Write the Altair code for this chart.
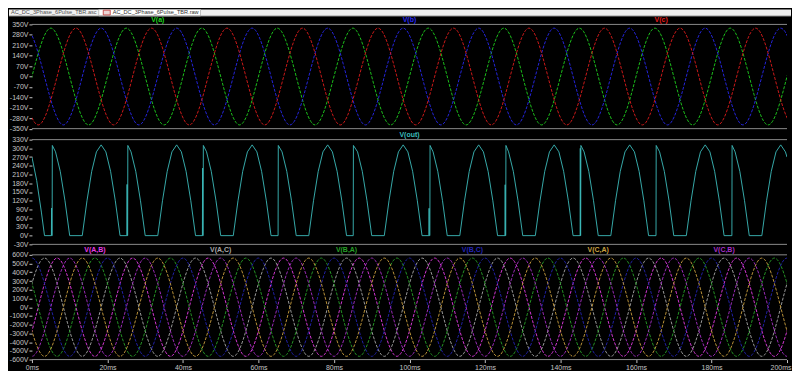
import altair as alt
import pandas as pd

# ---------------------------------------------------------------
# Values (time in ms, voltage in V)
# ---------------------------------------------------------------

# Top pane: phase voltages, given by the times of their successive peaks / troughs
va_t = [-15, -5, 5, 15, 25, 35, 45, 55, 65, 75, 85, 95,
        105, 115, 125, 135, 145, 155, 165, 175, 185, 195, 205, 215]
va_v = [325, -325, 325, -325, 325, -325, 325, -325, 325, -325, 325, -325,
        325, -325, 325, -325, 325, -325, 325, -325, 325, -325, 325, -325]
vb_t = [-11.67, -1.67, 8.33, 18.33, 28.33, 38.33, 48.33, 58.33, 68.33, 78.33, 88.33, 98.33,
        108.33, 118.33, 128.33, 138.33, 148.33, 158.33, 168.33, 178.33, 188.33, 198.33, 208.33, 218.33]
vb_v = [-325, 325, -325, 325, -325, 325, -325, 325, -325, 325, -325, 325,
        -325, 325, -325, 325, -325, 325, -325, 325, -325, 325, -325, 325]
vc_t = [-18.33, -8.33, 1.67, 11.67, 21.67, 31.67, 41.67, 51.67, 61.67, 71.67, 81.67, 91.67,
        101.67, 111.67, 121.67, 131.67, 141.67, 151.67, 161.67, 171.67, 181.67, 191.67, 201.67, 211.67]
vc_v = [-325, 325, -325, 325, -325, 325, -325, 325, -325, 325, -325, 325,
        -325, 325, -325, 325, -325, 325, -325, 325, -325, 325, -325, 325]

# Bottom pane: line-to-line voltages (peaks / troughs)
ab_t = [-13.33, -3.33, 6.67, 16.67, 26.67, 36.67, 46.67, 56.67, 66.67, 76.67, 86.67, 96.67,
        106.67, 116.67, 126.67, 136.67, 146.67, 156.67, 166.67, 176.67, 186.67, 196.67, 206.67, 216.67]
ac_t = [-16.67, -6.67, 3.33, 13.33, 23.33, 33.33, 43.33, 53.33, 63.33, 73.33, 83.33, 93.33,
        103.33, 113.33, 123.33, 133.33, 143.33, 153.33, 163.33, 173.33, 183.33, 193.33, 203.33, 213.33]
bc_t = [-20, -10, 0, 10, 20, 30, 40, 50, 60, 70, 80, 90, 100,
        110, 120, 130, 140, 150, 160, 170, 180, 190, 200, 210, 220]
vab_v = [563, -563, 563, -563, 563, -563, 563, -563, 563, -563, 563, -563,
         563, -563, 563, -563, 563, -563, 563, -563, 563, -563, 563, -563]
vba_v = [-563, 563, -563, 563, -563, 563, -563, 563, -563, 563, -563, 563,
         -563, 563, -563, 563, -563, 563, -563, 563, -563, 563, -563, 563]
vac_v = [563, -563, 563, -563, 563, -563, 563, -563, 563, -563, 563, -563,
         563, -563, 563, -563, 563, -563, 563, -563, 563, -563, 563, -563]
vca_v = [-563, 563, -563, 563, -563, 563, -563, 563, -563, 563, -563, 563,
         -563, 563, -563, 563, -563, 563, -563, 563, -563, 563, -563, 563]
vbc_v = [563, -563, 563, -563, 563, -563, 563, -563, 563, -563, 563, -563, 563,
         -563, 563, -563, 563, -563, 563, -563, 563, -563, 563, -563, 563]
vcb_v = [-563, 563, -563, 563, -563, 563, -563, 563, -563, 563, -563, 563, -563,
         563, -563, 563, -563, 563, -563, 563, -563, 563, -563, 563, -563]

# Middle pane: rectifier output V(out), (time, voltage) points
out_points = [
    (0, 270), (1.25, 190), (2.5, 81), (3.33, 0),
    (5.15, 0), (5.2, 95), (5.25, 0), (5.35, 0), (5.4, 310), (6.25, 288), (7.5, 221), (8.75, 120), (10, 0),
    (13.33, 0), (14.58, 120), (15.83, 221), (17.08, 288), (18.33, 312), (19.58, 288), (20.83, 221), (22.08, 120), (23.33, 0),
    (25.15, 0), (25.2, 176), (25.25, 0), (25.35, 0), (25.4, 310), (26.25, 288), (27.5, 221), (28.75, 120), (30, 0),
    (33.33, 0), (34.58, 120), (35.83, 221), (37.08, 288), (38.33, 312), (39.58, 288), (40.83, 221), (42.08, 120), (43.33, 0),
    (45.15, 0), (45.2, 232), (45.25, 0), (45.35, 0), (45.4, 310), (46.25, 288), (47.5, 221), (48.75, 120), (50, 0),
    (53.33, 0), (54.58, 120), (55.83, 221), (57.08, 288), (58.33, 312), (59.58, 288), (60.83, 221), (62.08, 120), (63.33, 0),
    (65.2, 0), (65.25, 310), (66.25, 288), (67.5, 221), (68.75, 120), (70, 0),
    (73.33, 0), (74.58, 120), (75.83, 221), (77.08, 288), (78.33, 312), (79.58, 288), (80.83, 221), (82.08, 120), (83.33, 0),
    (85.1, 0), (85.15, 310), (86.25, 288), (87.5, 221), (88.75, 120), (90, 0),
    (93.33, 0), (94.58, 120), (95.83, 221), (97.08, 288), (98.33, 312), (99.58, 288), (100.83, 221), (102.08, 120), (103.33, 0),
    (105.15, 0), (105.2, 94), (105.25, 0), (105.4, 0), (105.45, 310), (106.25, 288), (107.5, 221), (108.75, 120), (110, 0),
    (113.33, 0), (114.58, 120), (115.83, 221), (117.08, 288), (118.33, 312), (119.58, 288), (120.83, 221), (122.08, 120), (123.33, 0),
    (125.3, 0), (125.35, 175), (125.4, 0), (125.5, 0), (125.55, 310), (126.25, 288), (127.5, 221), (128.75, 120), (130, 0),
    (133.33, 0), (134.58, 120), (135.83, 221), (137.08, 288), (138.33, 312), (139.58, 288), (140.83, 221), (142.08, 120), (143.33, 0),
    (145.2, 0), (145.25, 300), (145.3, 0), (145.35, 0), (145.4, 310), (146.25, 288), (147.5, 221), (148.75, 120), (150, 0),
    (153.33, 0), (154.58, 120), (155.83, 221), (157.08, 288), (158.33, 312), (159.58, 288), (160.83, 221), (162.08, 120), (163.33, 0),
    (165.3, 0), (165.35, 310), (166.25, 288), (167.5, 221), (168.75, 120), (170, 0),
    (173.33, 0), (174.58, 120), (175.83, 221), (177.08, 288), (178.33, 312), (179.58, 288), (180.83, 221), (182.08, 120), (183.33, 0),
    (185.4, 0), (185.45, 310), (186.25, 288), (187.5, 221), (188.75, 120), (190, 0),
    (193.33, 0), (194.58, 120), (195.83, 221), (197.08, 288), (198.33, 312), (199.58, 288), (200, 270),
]

# Names, colours, label positions, ticks
top_names = ["V(a)", "V(b)", "V(c)"]
top_colors = ["#1ed21e", "#2828f0", "#e01c1c"]
top_label_t = [33.33, 100, 166.67]
top_ticks = [-350, -280, -210, -140, -70, 0, 70, 140, 210, 280, 350]

mid_names = ["V(out)"]
mid_colors = ["#3cbaba"]
mid_label_t = [100]
mid_ticks = [-30, 0, 30, 60, 90, 120, 150, 180, 210, 240, 270, 300, 330]

bot_names = ["V(A,B)", "V(A,C)", "V(B,A)", "V(B,C)", "V(C,A)", "V(C,B)"]
bot_colors = ["#e63ce6", "#a8a8a8", "#28a028", "#2424b4", "#cca040", "#a830c8"]
bot_label_t = [16.67, 50, 83.33, 116.67, 150, 183.33]
bot_ticks = [-600, -500, -400, -300, -200, -100, 0, 100, 200, 300, 400, 500, 600]

time_ticks = [0, 20, 40, 60, 80, 100, 120, 140, 160, 180, 200]

tab_names = ["AC_DC_3Phase_6Pulse_TBR.asc", "AC_DC_3Phase_6Pulse_TBR.raw"]

# ---------------------------------------------------------------
FONT = "Liberation Sans"
AXC = "#c4c4c4"
SEP = "#8a8a8a"
W = 757


def frame(items):
    return pd.concat([pd.DataFrame({"t": t, "v": v, "series": n}) for n, t, v in items],
                     ignore_index=True)


top_df = frame([("V(a)", va_t, va_v), ("V(b)", vb_t, vb_v), ("V(c)", vc_t, vc_v)])
mid_df = pd.DataFrame({"t": [p[0] for p in out_points], "v": [p[1] for p in out_points], "series": "V(out)"})
bot_df = frame([("V(A,B)", ab_t, vab_v), ("V(A,C)", ac_t, vac_v), ("V(B,A)", ab_t, vba_v),
                ("V(B,C)", bc_t, vbc_v), ("V(C,A)", ac_t, vca_v), ("V(C,B)", bc_t, vcb_v)])


def yaxis(vals):
    return alt.Axis(values=vals, labelExpr="datum.value + 'V'", title=None, domain=False, grid=False,
                    ticks=True, tickSize=3, tickColor=AXC, labelColor=AXC, labelFont=FONT,
                    labelFontSize=7, labelPadding=1, labelOverlap=False)


def xaxis_bottom():
    return alt.Axis(values=time_ticks, labelExpr="datum.value + 'ms'", title=None, domain=False,
                    grid=False, ticks=True, tickSize=3, tickColor=AXC, labelColor=AXC,
                    labelFont=FONT, labelFontSize=7, labelPadding=1, labelFlush=False,
                    labelOverlap=False,
                    labelAlign={"expr": "datum.value == 200 ? 'right' : 'center'"},
                    labelOffset={"expr": "datum.value == 200 ? 4 : 0"})


def pane(df, names, colors, label_t, ticks, height, interp, with_x_axis, dash, opacity):
    xs = alt.Scale(domain=[0, 200], nice=False, zero=False)
    ys = alt.Scale(domain=[ticks[0], ticks[-1]], nice=False, zero=False)
    cs = alt.Scale(domain=names, range=colors)

    def xenc(field):
        if with_x_axis:
            return alt.X(field, scale=xs, axis=xaxis_bottom())
        return alt.X(field, scale=xs, axis=None)

    rules = alt.Chart(pd.DataFrame({"y": [ticks[0], ticks[-1]]})).mark_rule(
        color=SEP, strokeWidth=1).encode(y=alt.Y("y:Q", scale=ys, axis=yaxis(ticks)))
    line_kw = dict(interpolate=interp, strokeWidth=1, clip=True, opacity=opacity)
    if dash:
        line_kw["strokeDash"] = dash
    lines = alt.Chart(df).mark_line(**line_kw).encode(
        x=xenc("t:Q"),
        y=alt.Y("v:Q", scale=ys, axis=yaxis(ticks)),
        color=alt.Color("series:N", scale=cs, legend=None),
    )
    labels = alt.Chart(pd.DataFrame({"t": label_t, "series": names})).mark_text(
        font=FONT, fontSize=7, fontWeight="bold", align="center", baseline="alphabetic").encode(
        x=xenc("t:Q"),
        y=alt.value(-2.5),
        text="series:N",
        color=alt.Color("series:N", scale=cs, legend=None),
    )
    return [rules, lines, labels], height


# tab bar of the LTspice window (drawn above the top pane)
ui = pd.DataFrame({"k": [0]})
tab_bar = alt.Chart(ui).mark_rect(color="#f0f0f0").encode(
    x=alt.value(-23), x2=alt.value(761), y=alt.value(-15), y2=alt.value(-8.5))
tab_active = alt.Chart(ui).mark_rect(fill="#ffffff", stroke="#b4b4b4", strokeWidth=0.8).encode(
    x=alt.value(67), x2=alt.value(169), y=alt.value(-15), y2=alt.value(-8.5))
tab_line = alt.Chart(ui).mark_rule(color="#a0a0a0").encode(
    x=alt.value(-23), x2=alt.value(761), y=alt.value(-8.5))
tab_icon = alt.Chart(ui).mark_rect(fill="#ecd6d6", stroke="#c03030", strokeWidth=0.8).encode(
    x=alt.value(71.5), x2=alt.value(78.5), y=alt.value(-14.3), y2=alt.value(-9.5))
tab_text1 = alt.Chart(ui).mark_text(text=tab_names[0], font=FONT, fontSize=5.6, color="#505050",
                                    align="left", baseline="alphabetic").encode(
    x=alt.value(-21), y=alt.value(-10))
tab_text2 = alt.Chart(ui).mark_text(text=tab_names[1], font=FONT, fontSize=5.6, color="#303030",
                                    align="left", baseline="alphabetic").encode(
    x=alt.value(81), y=alt.value(-10))

top_layers, h1 = pane(top_df, top_names, top_colors, top_label_t, top_ticks, 104.5, "monotone", False, [3, 1.5], 0.9)
mid_layers, h2 = pane(mid_df, mid_names, mid_colors, mid_label_t, mid_ticks, 105, "linear", False, None, 0.9)
bot_layers, h3 = pane(bot_df, bot_names, bot_colors, bot_label_t, bot_ticks, 105, "monotone", True, [3, 1.5], 0.9)

top = alt.layer(tab_bar, tab_active, tab_line, tab_icon, tab_text1, tab_text2, *top_layers).properties(
    width=W, height=h1)
mid = alt.layer(*mid_layers).properties(width=W, height=h2)
bot = alt.layer(*bot_layers).properties(width=W, height=h3)

chart = (
    alt.vconcat(top, mid, bot, spacing=10.5, bounds="flush")
    .resolve_scale(x="shared", y="independent", color="independent")
    .properties(padding=0)
    .configure(background="#000000")
    .configure_view(strokeWidth=0)
)

chart.save("out.html", embed_options={"renderer": "svg", "actions": False})
